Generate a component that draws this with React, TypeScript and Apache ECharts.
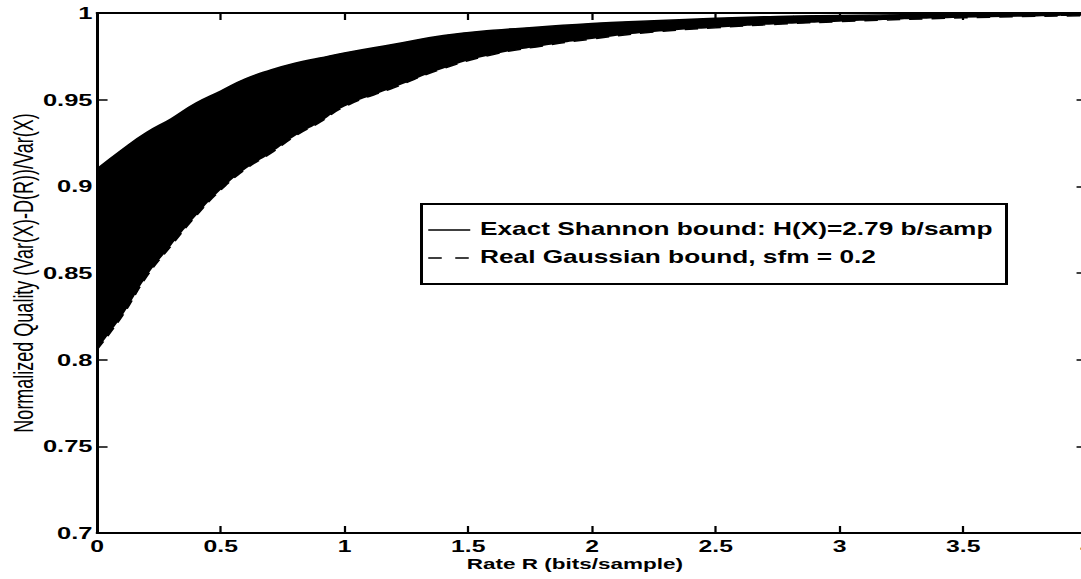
import React, { useEffect, useRef } from "react";
import * as echarts from "echarts";

const rates = [0, 0.1, 0.2, 0.3, 0.4, 0.5, 0.6, 0.7, 0.8, 0.9, 1.0, 1.2, 1.4, 1.6, 1.8, 2.0, 2.25, 2.5, 2.75, 3.0, 3.5, 4.0];
const shannonExact = [0.91, 0.921, 0.931, 0.939, 0.948, 0.955, 0.962, 0.967, 0.971, 0.974, 0.977, 0.982, 0.987, 0.99, 0.992, 0.994, 0.9955, 0.997, 0.998, 0.9985, 0.9993, 0.9997];
const gaussianBound = [0.806, 0.825, 0.848, 0.866, 0.883, 0.898, 0.91, 0.919, 0.929, 0.937, 0.946, 0.957, 0.968, 0.976, 0.981, 0.985, 0.989, 0.9915, 0.9935, 0.995, 0.9972, 0.9985];

const legendLabels = ["Exact Shannon bound: H(X)=2.79 b/samp", "Real Gaussian bound, sfm = 0.2"];
const xAxisTitle = "Rate R (bits/sample)";
const yAxisTitle = "Normalized Quality (Var(X)-D(R))/Var(X)";

const SX = 1.5;
const FONT = "'Liberation Sans', Arial, Helvetica, sans-serif";

export default function App() {
  const ref = useRef<HTMLDivElement>(null);
  useEffect(() => {
    if (!ref.current) return;
    const chart = echarts.init(ref.current, undefined, { renderer: "svg" });
    const lowerPairs = rates.map((r, i) => [r, gaussianBound[i]]);
    const upperPairs = rates.map((r, i) => [r, shannonExact[i]]);
    const axisLine = { show: true, onZero: false, lineStyle: { color: "#000", width: 2 } };
    const tickStyle = { show: true, inside: true, length: 7, lineStyle: { color: "#000", width: 1.5 } };
    const labelStyle = { color: "#000", fontFamily: FONT, fontWeight: "bold" as const, fontSize: 17 };
    chart.setOption({
      animation: false,
      backgroundColor: "#fff",
      grid: { left: 64.7, right: 15.3, top: 13, bottom: 46, containLabel: false, outerBoundsMode: "none" },
      xAxis: [
        {
          type: "value", min: 0, max: 4, interval: 0.5, position: "bottom", z: 10,
          axisLine, axisTick: tickStyle, splitLine: { show: false },
          axisLabel: { ...labelStyle, fontSize: 16.5, margin: 5 },
          name: xAxisTitle, nameLocation: "middle", nameGap: 23, nameMoveOverlap: false,
          nameTextStyle: { color: "#000", fontFamily: FONT, fontWeight: "bold", fontSize: 15, padding: [0, 23, 0, 0] },
        },
        {
          type: "value", min: 0, max: 4, interval: 0.5, position: "top", z: 10,
          axisLine, axisTick: tickStyle, splitLine: { show: false }, axisLabel: { show: false },
        },
      ],
      yAxis: [
        {
          type: "value", min: 0.7, max: 1, interval: 0.05, position: "left", z: 10,
          axisLine, axisTick: tickStyle, splitLine: { show: false },
          axisLabel: { ...labelStyle, margin: 3 },
          name: yAxisTitle, nameLocation: "middle", nameGap: 40, nameMoveOverlap: false,
          nameTextStyle: { color: "#000", fontFamily: FONT, fontSize: 18 },
        },
        {
          type: "value", min: 0.7, max: 1, interval: 0.05, position: "right", z: 10,
          axisLine, axisTick: tickStyle, splitLine: { show: false }, axisLabel: { show: false },
        },
      ],
      series: [
        {
          name: legendLabels[0], type: "line", data: upperPairs, symbol: "none", smooth: true,
          lineStyle: { color: "#000", width: 1.5, type: "solid" },
          areaStyle: { color: "#000", opacity: 1, origin: "start" }, z: 2,
        },
        {
          name: legendLabels[1], type: "line", data: lowerPairs, symbol: "none", smooth: true,
          lineStyle: { color: "#000", width: 1.5, type: [9, 6] },
          areaStyle: { color: "#fff", opacity: 1, origin: "start" }, z: 3,
        },
      ],
      graphic: [
        {
          type: "rect", left: 280, top: 203, z: 100,
          shape: { width: 390, height: 80 },
          style: { fill: "#fff", stroke: "#000", lineWidth: 2 },
        },
        {
          type: "line", z: 101,
          shape: { x1: 285.5, y1: 230, x2: 313.5, y2: 230 },
          style: { stroke: "#000", lineWidth: 1.5 },
        },
        {
          type: "line", z: 101,
          shape: { x1: 285.5, y1: 258, x2: 313.5, y2: 258 },
          style: { stroke: "#000", lineWidth: 1.5, lineDash: [9, 9] },
        },
        {
          type: "text", left: 320, top: 220, z: 101,
          style: { text: legendLabels[0], fill: "#000", font: `bold 17.5px ${FONT}` },
        },
        {
          type: "text", left: 320, top: 248, z: 101,
          style: { text: legendLabels[1], fill: "#000", font: `bold 17.5px ${FONT}` },
        },
      ],
    });
    return () => chart.dispose();
  }, []);
  return (
    <div style={{ position: "fixed", left: 0, top: 0, width: 1081, height: 579, overflow: "hidden", background: "#fff" }}>
      <div
        ref={ref}
        style={{ width: 740, height: 579, transform: `scaleX(${SX})`, transformOrigin: "0 0" }}
      />
    </div>
  );
}
